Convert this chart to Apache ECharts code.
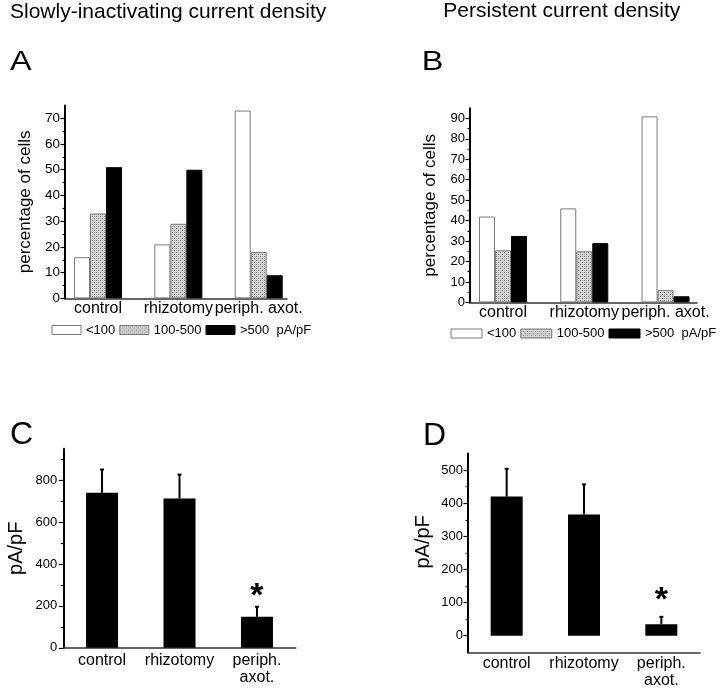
<!DOCTYPE html>
<html><head><meta charset="utf-8">
<script src="https://cdn.jsdelivr.net/npm/echarts@6/dist/echarts.min.js"></script>
<style>html,body{margin:0;padding:0;background:#fff}#c{width:720px;height:693px}</style>
</head><body><div id="c"></div>
<script>
// ---------- data ----------
const groups = ['control', 'rhizotomy', 'periph. axot.'];
const groupsCD = ['control', 'rhizotomy', 'periph.\naxot.'];
const densityClasses = ['<100', '100-500', '>500'];
// A: slowly-inactivating current density, percentage of cells
const aLow = [16, 21, 73];
const aMid = [33, 29, 18];
const aHigh = [51, 50, 9];
// B: persistent current density, percentage of cells
const bLow = [42, 46, 91];
const bMid = [25.5, 25, 6];
const bHigh = [32.5, 29, 3];
// C: slowly-inactivating mean (pA/pF) and SEM
const cMean = [740, 713, 148];
const cSem = [111, 114, 48];
// D: persistent mean (pA/pF) and SEM
const dMean = [420, 366, 35];
const dSem = [84, 91, 22];
const sig = ['', '', '*'];
// tick labels
const aTicks = [0, 10, 20, 30, 40, 50, 60, 70];
const aMinor = [5, 15, 25, 35, 45, 55, 65];
const bTicks = [0, 10, 20, 30, 40, 50, 60, 70, 80, 90];
const bMinor = [5, 15, 25, 35, 45, 55, 65, 75, 85];
const cTicks = [0, 200, 400, 600, 800];
const cMinor = [100, 300, 500, 700, 900];
const dTicks = [0, 100, 200, 300, 400, 500];
const dMinor = [50, 150, 250, 350, 450];

// ---------- styling helpers ----------
const FONT = 'Liberation Sans, Arial, sans-serif';
function hatchCanvas() {
  const c = document.createElement('canvas');
  c.width = 4; c.height = 4;
  const g = c.getContext('2d');
  g.fillStyle = '#d6d6d6'; g.fillRect(0, 0, 4, 4);
  g.fillStyle = '#7c7c7c'; g.fillRect(0, 0, 1, 1); g.fillRect(2, 2, 1, 1);
  g.fillStyle = '#a8a8a8'; g.fillRect(2, 0, 1, 1); g.fillRect(0, 2, 1, 1);
  return c;
}
const hatch = { image: hatchCanvas(), repeat: 'repeat' };
const styles = [
  { color: '#ffffff', borderColor: '#7a7a7a', borderWidth: 1 },
  { color: hatch, borderColor: '#7a7a7a', borderWidth: 1 },
  { color: '#000000', borderColor: '#000000', borderWidth: 1 }
];

function grid(left, top, width, height) {
  return { left, top, width, height, outerBoundsMode: 'none', containLabel: false };
}
function yMain(gi, min, max, ticks, fs, name, nameSize, nameGap, margin, namePad) {
  return {
    type: 'value', gridIndex: gi, position: 'left', min, max,
    axisLine: { show: true, onZero: false, lineStyle: { color: '#000', width: 2 } },
    axisTick: { show: true, inside: false, length: 4.5, customValues: ticks, lineStyle: { color: '#000', width: 1.2 } },
    axisLabel: { show: true, customValues: ticks, fontSize: fs, color: '#000', margin, fontFamily: FONT },
    splitLine: { show: false },
    name, nameLocation: 'middle', nameGap, nameRotate: 90,
    nameTextStyle: { fontSize: nameSize, color: '#000', fontFamily: FONT, padding: namePad || 0 }
  };
}
function yMinor(gi, min, max, ticks) {
  return {
    type: 'value', gridIndex: gi, position: 'left', min, max, offset: 0,
    axisLine: { show: false, onZero: false },
    axisTick: { show: true, inside: false, length: 2.5, customValues: ticks, lineStyle: { color: '#000', width: 1.2 } },
    axisLabel: { show: false },
    splitLine: { show: false }
  };
}
function xValue(gi, min, max, margin) {
  return {
    type: 'value', gridIndex: gi, min, max, position: 'bottom',
    axisLine: { show: true, onZero: false, lineStyle: { color: '#333', width: 1.5 } },
    axisTick: { show: false },
    axisLabel: { show: true, customValues: [1, 2, 3], formatter: v => groups[Math.round(v) - 1],
      fontSize: 16, color: '#000', margin, fontFamily: FONT },
    splitLine: { show: false }
  };
}
function xCat(gi, margin) {
  return {
    type: 'category', gridIndex: gi, data: groupsCD, boundaryGap: true, position: 'bottom',
    axisLine: { show: true, onZero: false, lineStyle: { color: '#333', width: 1.5 } },
    axisTick: { show: false },
    axisLabel: { show: true, interval: 0, fontSize: 16, lineHeight: 17, color: '#000', margin, fontFamily: FONT },
    splitLine: { show: false }
  };
}
function pctSeries(k, vals, xi, yi) {
  return {
    type: 'bar', name: densityClasses[k], xAxisIndex: xi, yAxisIndex: yi,
    data: vals.map((v, i) => [i + 1, v]),
    barWidth: 16, barGap: '0%', itemStyle: styles[k],
    emphasis: { disabled: true }, animation: false
  };
}
function meanSeries(means, xi, yi) {
  return {
    type: 'bar', xAxisIndex: xi, yAxisIndex: yi, data: means,
    barWidth: 32, itemStyle: { color: '#000' }, emphasis: { disabled: true }, animation: false
  };
}
function errSeries(means, sems, xi, yi, starDy) {
  return {
    type: 'custom', xAxisIndex: xi, yAxisIndex: yi, silent: true, animation: false, z: 5,
    data: means.map((m, i) => [i, m, m + sems[i]]),
    renderItem(params, api) {
      const x = api.value(0);
      const p0 = api.coord([x, api.value(1)]);
      const p1 = api.coord([x, api.value(2)]);
      const ch = [
        { type: 'line', shape: { x1: p0[0], y1: p0[1], x2: p1[0], y2: p1[1] }, style: { stroke: '#000', lineWidth: 2 } },
        { type: 'line', shape: { x1: p1[0] - 2, y1: p1[1], x2: p1[0] + 2, y2: p1[1] }, style: { stroke: '#000', lineWidth: 2 } }
      ];
      const s = sig[params.dataIndex];
      if (s) ch.push({ type: 'text', x: p1[0], y: p1[1] + starDy,
        style: { text: s, font: 'bold 34px ' + FONT, fill: '#000', align: 'center', verticalAlign: 'middle' } });
      return { type: 'group', children: ch };
    }
  };
}
function legend(left, top, iw) {
  return {
    data: densityClasses, left, top, width: 300, padding: 0, orient: 'horizontal', icon: 'rect',
    itemWidth: iw, itemHeight: 9, itemGap: 4, selectedMode: false,
    formatter: n => n === '>500' ? n + '  pA/pF' : n,
    textStyle: { fontSize: 13, color: '#000', fontFamily: FONT },
    itemStyle: { borderWidth: 1 }
  };
}
function txt(x, y, text, size, extra) {
  return Object.assign({ type: 'text', x, y,
    style: { text, font: size + 'px ' + FONT, fill: '#000', align: 'left', verticalAlign: 'middle' } }, extra || {});
}

const chart = echarts.init(document.getElementById('c'), null, { renderer: 'canvas' });
chart.setOption({
  animation: false,
  backgroundColor: '#fff',
  textStyle: { fontFamily: FONT },
  grid: [
    grid(65, 105.4, 222, 193),
    grid(470, 108.2, 227, 194.2),
    grid(63.3, 448.8, 232.4, 199),
    grid(468, 453.5, 232, 198.8)
  ],
  xAxis: [
    xValue(0, 0.589, 3.352, 2),
    xValue(1, 0.594, 3.387, 2.5),
    xCat(2, 4),
    xCat(3, 3)
  ],
  yAxis: [
    yMain(0, 0, 75, aTicks, 13.5, 'percentage of cells', 17, 31, 5),
    yMinor(0, 0, 75, aMinor),
    yMain(1, 0, 95, bTicks, 13, 'percentage of cells', 17, 31, 5),
    yMinor(1, 0, 95, bMinor),
    yMain(2, 0, 950, cTicks, 13, 'pA/pF', 20, 37, 6),
    yMinor(2, 0, 950, cMinor),
    yMain(3, -50, 550, dTicks, 13, 'pA/pF', 20, 35, 5, [0, 0, 0, 22]),
    yMinor(3, -50, 550, dMinor)
  ],
  legend: [legend(51.5, 323.5, 29), legend(450.5, 327, 31)],
  series: [
    pctSeries(0, aLow, 0, 0), pctSeries(1, aMid, 0, 0), pctSeries(2, aHigh, 0, 0),
    pctSeries(0, bLow, 1, 2), pctSeries(1, bMid, 1, 2), pctSeries(2, bHigh, 1, 2),
    meanSeries(cMean, 2, 4), errSeries(cMean, cSem, 2, 4, -10),
    meanSeries(dMean, 3, 6), errSeries(dMean, dSem, 3, 6, -16)
  ],
  graphic: [
    txt(10, 12.5, 'Slowly-inactivating current density', 21),
    txt(443.3, 10.8, 'Persistent current density', 21),
    txt(10, 62.5, 'A', 27, { scaleX: 1.2, scaleY: 1 }),
    txt(421.7, 63, 'B', 27, { scaleX: 1.2, scaleY: 1 }),
    txt(10, 435, 'C', 32),
    txt(423, 436.5, 'D', 32)
  ]
});
</script>
</body></html>
